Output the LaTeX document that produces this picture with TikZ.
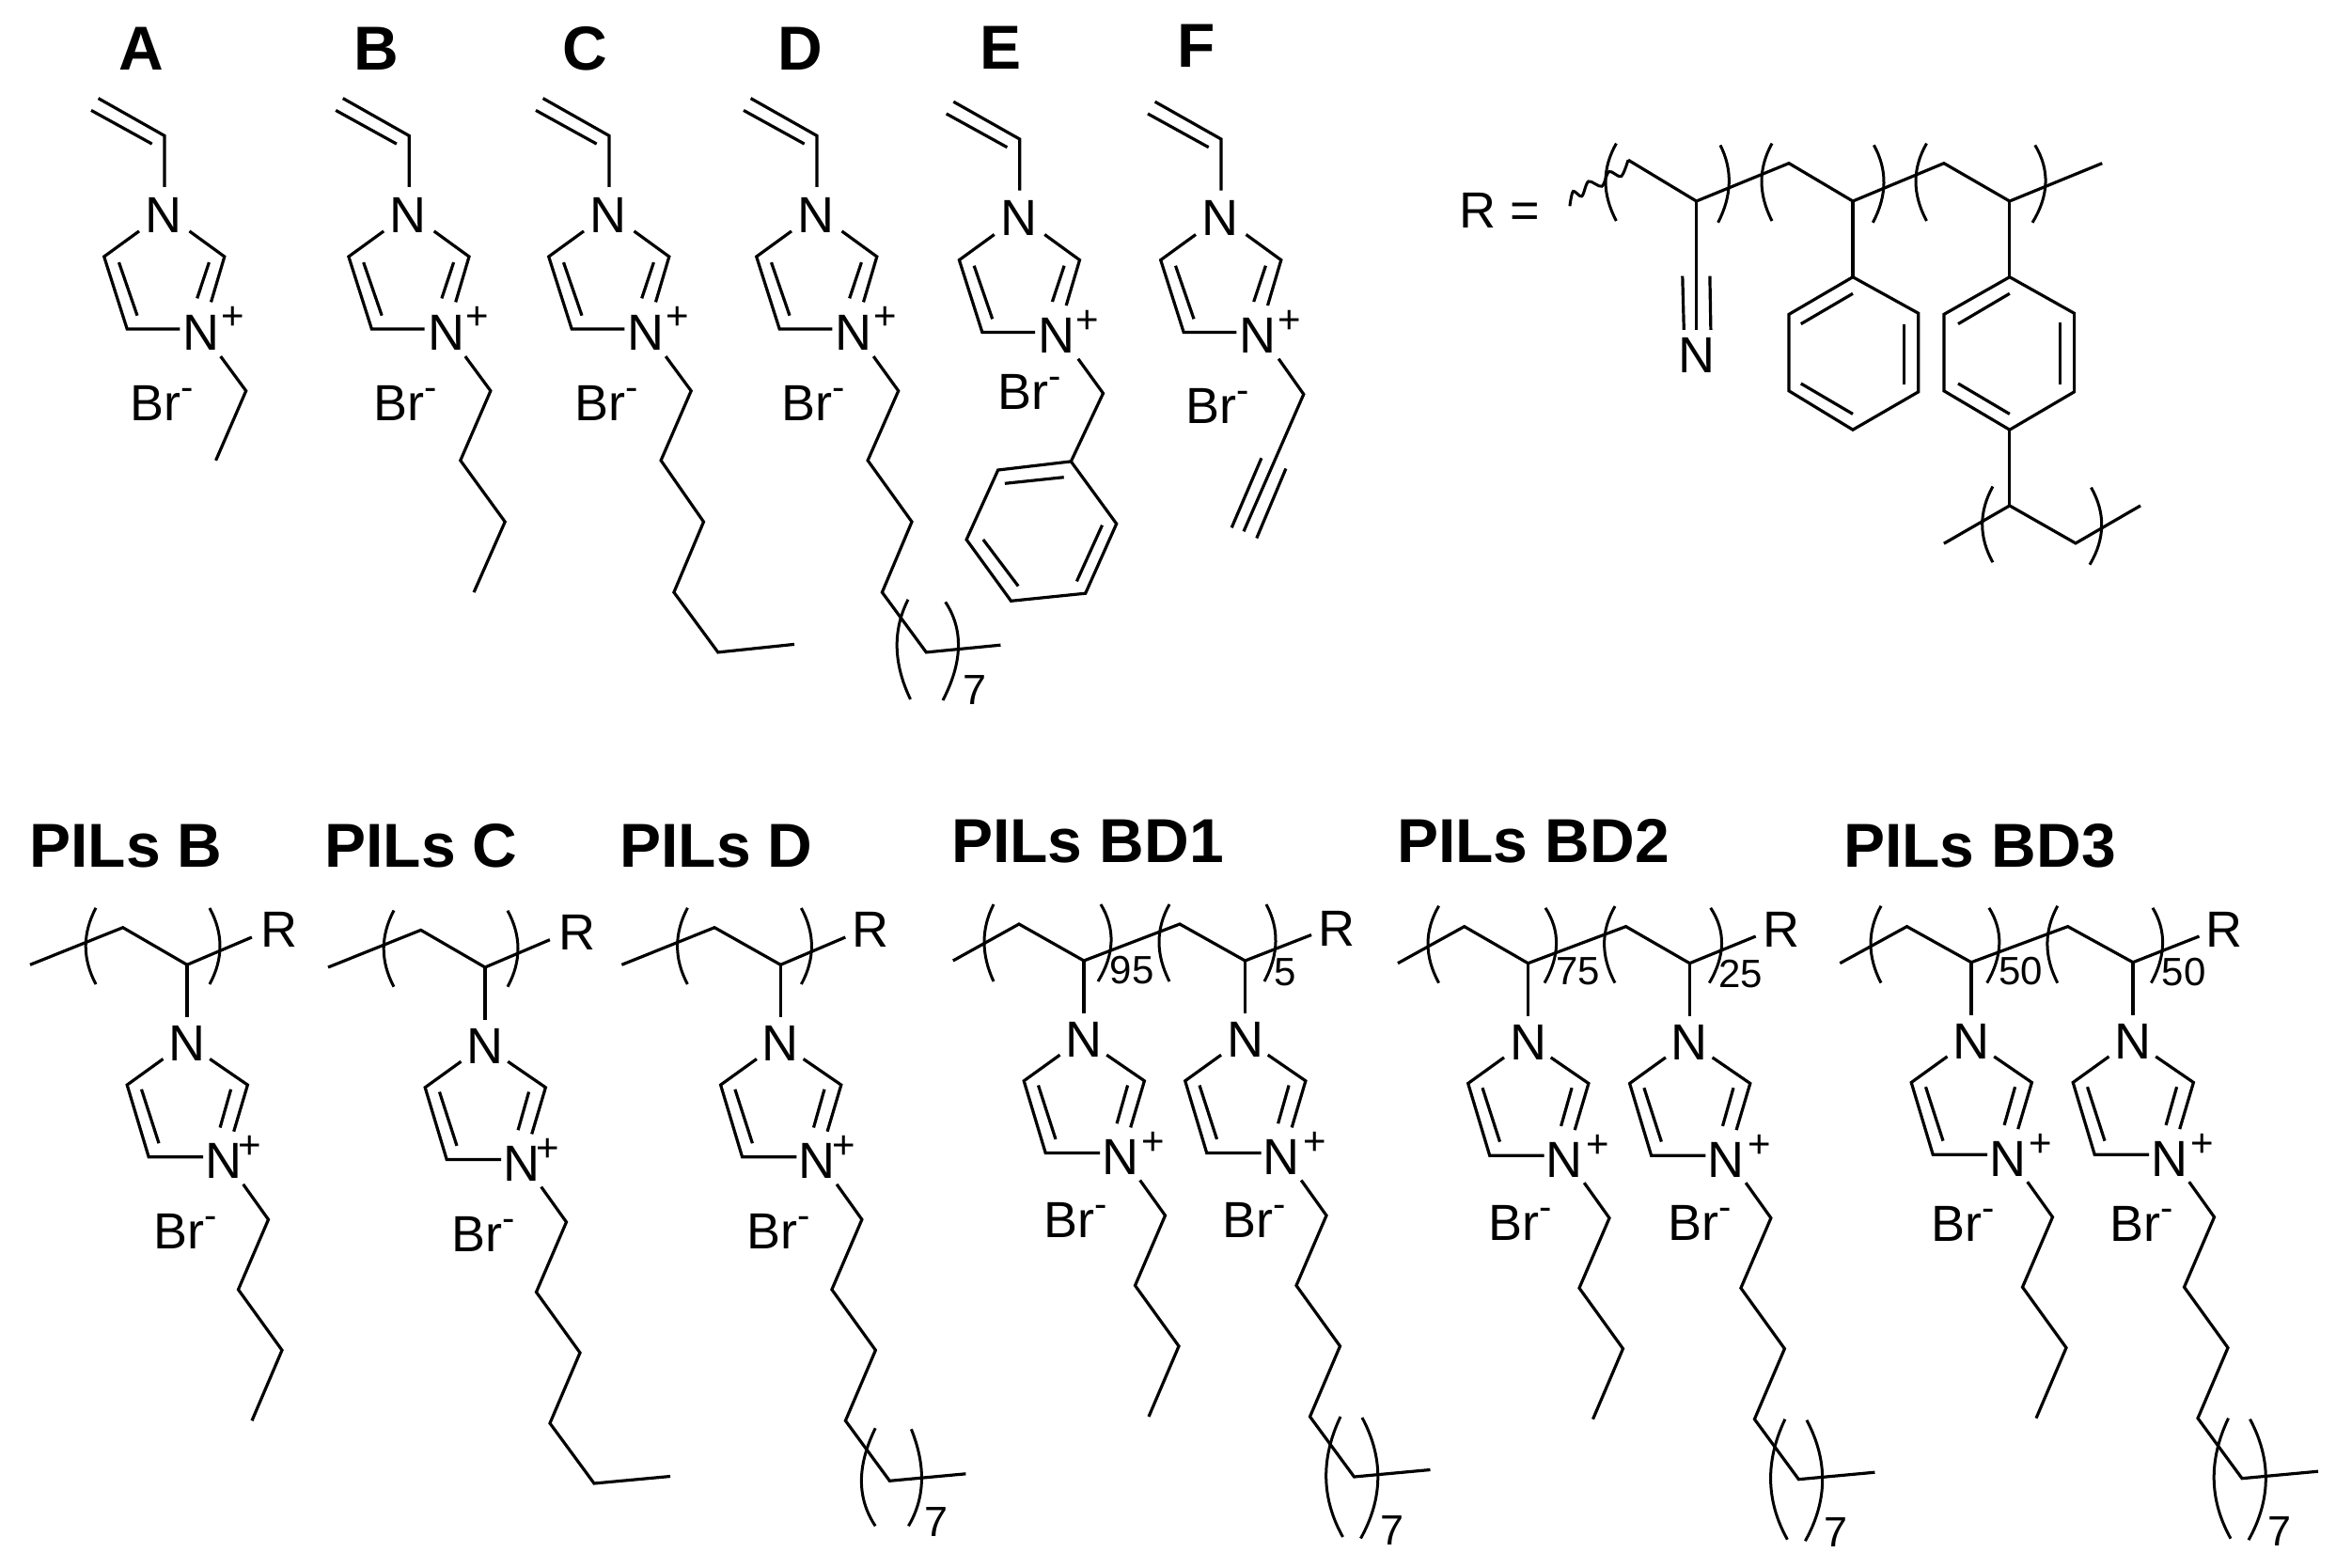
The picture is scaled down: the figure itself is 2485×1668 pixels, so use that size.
\documentclass[tikz,border=0pt]{standalone}
\usepackage{fontspec}
\setmainfont{Liberation Sans}
\usetikzlibrary{calc}
\tikzset{
  bond/.style={line width=1.6pt,black},
  brack/.style={line width=1.5pt,black},
  atom/.style={font=\fontsize{27}{30}\selectfont,inner sep=0pt,text height=19.3pt,text depth=0pt},
  small/.style={font=\fontsize{21}{23}\selectfont,inner sep=0pt,text height=15pt,text depth=0pt},
  seven/.style={font=\fontsize{22.5}{24}\selectfont,inner sep=0pt,text height=16.1pt,text depth=0pt},
  title/.style={font=\fontsize{33}{36}\selectfont\bfseries,inner sep=0pt,text height=23.6pt,text depth=0pt},
}
\newcommand\brk[3]{\draw[brack] (#1) .. controls ($1.33333*(#2)-0.33333*(#3)$) and ($1.33333*(#2)-0.33333*(#1)$) .. (#3);}
\newcommand\brtext{Br\raisebox{11pt}{\fontsize{20}{20}\selectfont -}}
% monomer: name, x, y of vinyl carbon, Br offset, chain path
\newcommand\topunit[6]{%
\begin{scope}[shift={(#2,#3)}]
  \draw[bond] (-70.4,-39.8) -- (0,0) -- (0,54.6);
  \draw[bond] (-78,-27) -- (-13.3,8.7);
  \node[atom] (#1-N1) at (-1,83.7) {N};
  \draw[bond] (-27,101.5) -- (-64.3,128.6) -- (-39.8,205.6) -- (16.3,205.6);
  \draw[bond] (-48.5,134.7) -- (-29,191.3);
  \draw[bond] (26.5,101.5) -- (63.8,128.6) -- (49.5,177);
  \draw[bond] (47.4,134.7) -- (34.7,173);
  \node[atom] (#1-N2) at (39.3,208.7) {N};
  \node[small] (#1-plus) at (72.4,191.3) {+};
  \node[atom] (#1-Br) at (#4,#5) {\brtext};
  #6
\end{scope}}
% polymer unit: name, x, y of backbone carbon, Br offset x, Br offset y, plus x, chain
\newcommand\botunit[7]{%
\begin{scope}[shift={(#2,#3)}]
  \draw[bond] (0,0) -- (0,55.8);
  \node[atom] (#1-N1) at (0,83) {N};
  \draw[bond] (-25.5,100.2) -- (-63.8,127.8) -- (-40.8,204.5) -- (17,204.5);
  \draw[bond] (-48.5,132.5) -- (-30,189.9);
  \draw[bond] (24.2,100.2) -- (64.4,127.8) -- (49.7,177.4);
  \draw[bond] (46.6,132.5) -- (35.1,173.2);
  \node[atom] (#1-N2) at (38.9,208) {N};
  \node[small] (#1-plus) at (#6,191.5) {+};
  \node[atom] (#1-Br) at (#4,#5) {\brtext};
  #7
\end{scope}}
\newcommand\butyl{\draw[bond] (59.7,233.5) -- (86.5,271) -- (54.5,345.5) -- (101,410) -- (69,485);}
\newcommand\hexyl{\draw[bond] (59.7,233.5) -- (86.5,271) -- (54.5,345.5) -- (101,410) -- (69,485) -- (116,549) -- (197,541.5);}
\newcommand\longchain[1]{\hexyl
  \brk{101.5,485}{86.2,550.3}{104,613}
  \brk{124.5,486}{141.3,550.3}{123,614.5}
  \node[seven] (#1-sub) at (156,605) {7};}
\begin{document}
\begin{tikzpicture}[x=0.5pt,y=-0.5pt]
\useasboundingbox (0,0) rectangle (2485,1668);
\fill[white] (0,0) rectangle (2485,1668);
% --- titles
\node[title] (tA) at (150,51) {A};
\node[title] (tB) at (400,51) {B};
\node[title] (tC) at (622,51) {C};
\node[title] (tD) at (851,51) {D};
\node[title] (tE) at (1064,50) {E};
\node[title] (tF) at (1273,48) {F};
\node[title] (tPB) at (134,899) {PILs B};
\node[title] (tPC) at (448,899) {PILs C};
\node[title] (tPD) at (762,899) {PILs D};
\node[title] (tBD1) at (1157,894) {PILs BD1};
\node[title] (tBD2) at (1631,894) {PILs BD2};
\node[title] (tBD3) at (2106,899) {PILs BD3};
% --- monomers
\topunit{A}{175}{144.4}{-3}{284}{\draw[bond] (59.7,234.7) -- (86.7,271.4) -- (54.6,345.4);}
\topunit{B}{435.2}{144.4}{-3.6}{284}{\draw[bond] (59.7,234.7) -- (86.7,271.4) -- (54.6,345.4) -- (102,410.7) -- (68.9,485.7);}
\topunit{C}{648}{144.4}{-3}{284}{\draw[bond] (60.2,234.7) -- (87.2,271.4) -- (55.1,345.4) -- (100.5,410.7) -- (68.9,485.7) -- (115.8,549.5) -- (197,541);}
\topunit{D}{869}{144.4}{-3.6}{284}{\draw[bond] (60.2,234.7) -- (86.7,271.4) -- (54.1,345.4) -- (101,410.7) -- (69.4,485.7) -- (116.3,549.5) -- (195.4,541.8);
  \brk{97,493.4}{85.2,544.4}{99.5,599.5}
  \brk{136.7,496}{150.5,544}{134,600.5}
  \node[seven] (D-sub) at (168,589.3) {7};}
\topunit{E}{1084.7}{148}{10}{268}{\draw[bond] (62.2,233.7) -- (88.8,270.4) -- (54.6,342.9);
  \draw[bond] (54.6,342.9) -- (103,409.2) -- (70,483.2) -- (-9.2,491.3) -- (-56.6,426) -- (-23,352) -- cycle;
  \draw[bond] (-15.8,366.3) -- (47,359.7);
  \draw[bond] (87.8,410.7) -- (60.7,470.4);
  \draw[bond] (-1.5,475.5) -- (-38.8,426);}
\topunit{F}{1299}{148}{-4}{283}{\draw[bond] (61.2,233.7) -- (87.8,271.4) -- (24,417.3);
  \draw[bond] (42.9,339.3) -- (11.2,413.3);
  \draw[bond] (68.9,350.5) -- (37.8,424.5);}
% --- R group
\node[atom] (Req) at (1595.4,222.8) {R =};
\draw[line width=1.5pt] plot[smooth] coordinates {(1669.9,219.3) (1673.5,203.5) (1682.7,208.8) (1689.8,193) (1704,198.2) (1711.7,182.5) (1724.5,187.7) (1732,170.2)};
\draw[bond] (1732,170.2) -- (1804.6,214) -- (1903,173.7) -- (1971,214) -- (2067.9,173.7) -- (2137.8,214) -- (2236.2,173.7);
\brk{1719.4,152.6}{1708,193}{1719.4,235}
\brk{1830,154.4}{1839.3,194.7}{1827.6,236.8}
\brk{1885,152.6}{1874,193}{1885,235}
\brk{1993.4,154.4}{2004,194.7}{1992.3,236.8}
\brk{2049.5,152.6}{2038,193}{2049.5,235}
\brk{2164.8,154.4}{2176,194.7}{2162,236.8}
\draw[bond] (1804.6,214) -- (1804.6,350.9);
\draw[bond] (1789.8,293.7) -- (1791.3,350.9);
\draw[bond] (1818.9,293.7) -- (1819.9,350.9);
\node[atom] (RN) at (1805,377) {N};
\draw[bond] (1971,214) -- (1971,294.7);
\draw[bond] (1971,294.7) -- (2040.8,333.3) -- (2040.8,416.8) -- (1971,457.2) -- (1903,415.8) -- (1903,334.4) -- cycle;
\draw[bond] (1915.8,344.6) -- (1971,312.3);
\draw[bond] (2025.5,344.6) -- (2025.5,409.5);
\draw[bond] (1915.8,408) -- (1971,440.4);
\draw[bond] (2137.8,214) -- (2137.8,294.7);
\draw[bond] (2137.8,294.7) -- (2206.6,333.3) -- (2206.6,416.8) -- (2137.8,457.2) -- (2067.9,415.8) -- (2067.9,334.4) -- cycle;
\draw[bond] (2083,344.6) -- (2137.8,312.3);
\draw[bond] (2191.3,343) -- (2191.3,409.5);
\draw[bond] (2083,408) -- (2137.8,440.4);
\draw[bond] (2137.8,457.2) -- (2137.8,537.9);
\draw[bond] (2067.9,578.2) -- (2137.8,537.9) -- (2208,577.9) -- (2277,537.9);
\brk{2119.9,517.5}{2108.7,557.9}{2119.9,598.2}
\brk{2224.5,518.6}{2235.7,559.6}{2223,600.7}
% --- PILs B
\draw[bond] (32,1026.3) -- (130.7,986.7) -- (199,1026.3) -- (267.9,997);
\brk{102,965.8}{91.2,1006.5}{102,1047}
\brk{223,966}{234,1006.5}{223,1047}
\node[atom] (PBR) at (296.6,988) {R};
\botunit{PB}{199}{1026.3}{-2}{283}{67}{\butyl}
% --- PILs C
\draw[bond] (349,1029) -- (447.7,989.4) -- (516,1029) -- (584.9,999.7);
\brk{419,968.5}{408.2,1009.2}{419,1049.7}
\brk{540,968.7}{551,1009.2}{540,1049.7}
\node[atom] (PCR) at (613.6,990.7) {R};
\botunit{PC}{516}{1029}{-2}{283}{67}{\hexyl}
% --- PILs D
\draw[bond] (661.4,1026.3) -- (760.1,986.7) -- (830.4,1026.3) -- (899.3,997);
\brk{731.4,965.8}{720.6,1006.5}{731.4,1047}
\brk{852.4,966}{863.4,1006.5}{852.4,1047}
\node[atom] (PDR) at (926,988) {R};
\botunit{PD}{830.4}{1026.3}{-2}{283}{67}{\hexyl
  \brk{100.8,493}{86,549}{100.8,597}
  \brk{139,494}{150,549}{136,597}
  \node[seven] (PD-sub) at (166,592) {7};}
% --- BD1
\draw[bond] (1013.8,1022) -- (1084,983) -- (1153,1022) -- (1255,983) -- (1324.5,1022) -- (1395,994.5);
\brk{1057,962}{1047,1002}{1057,1044}
\brk{1171,962}{1182,1002}{1168,1044}
\brk{1244,962}{1233,1002}{1244,1044}
\brk{1347,962}{1357,1002}{1345,1044}
\node[small] (s95) at (1204,1031) {95};
\node[small] (s5) at (1367,1033.6) {5};
\node[atom] (BD1R) at (1422,987) {R};
\botunit{BDa}{1153}{1022}{-9}{275}{74}{\butyl}
\botunit{BDb}{1324.5}{1022}{10}{275}{74}{\longchain{BDb}}
% --- BD2
\draw[bond] (1487,1024.7) -- (1557.7,985.6) -- (1625.5,1024.7) -- (1729.6,985.6) -- (1797.4,1024.7) -- (1867.7,996);
\brk{1530.6,963.7}{1519,1004}{1530.6,1045.6}
\brk{1644,965.8}{1655.6,1004}{1643,1045.6}
\brk{1718,964}{1706.6,1004}{1718,1045.6}
\brk{1819.7,965.8}{1831.5,1004}{1818.3,1045.6}
\node[small] (s75) at (1678.6,1032.6) {75};
\node[small] (s25) at (1851.6,1035) {25};
\node[atom] (BD2R) at (1894.8,988) {R};
\botunit{BDc}{1625.5}{1024.7}{-8.6}{275}{74}{\butyl}
\botunit{BDd}{1797.4}{1024.7}{11}{275}{74}{\longchain{BDd}}
% --- BD3
\draw[bond] (1957.3,1024.7) -- (2028.5,985.6) -- (2097,1023.7) -- (2199.7,985.6) -- (2269,1023.7) -- (2339.5,996);
\brk{2001,963.7}{1990,1004}{2001,1045.6}
\brk{2115.9,965.8}{2126.8,1004}{2113.7,1045.6}
\brk{2188.8,963.7}{2177.9,1004}{2188.8,1045.6}
\brk{2290,965.8}{2300.6,1004}{2288.4,1045.6}
\node[small] (s50a) at (2149.5,1032.6) {50};
\node[small] (s50b) at (2323,1033.6) {50};
\node[atom] (BD3R) at (2365.7,988) {R};
\botunit{BDe}{2097}{1023.7}{-8.7}{277}{74}{\butyl}
\botunit{BDf}{2269}{1023.7}{9.4}{277}{74}{\longchain{BDf}}
\end{tikzpicture}
\end{document}
